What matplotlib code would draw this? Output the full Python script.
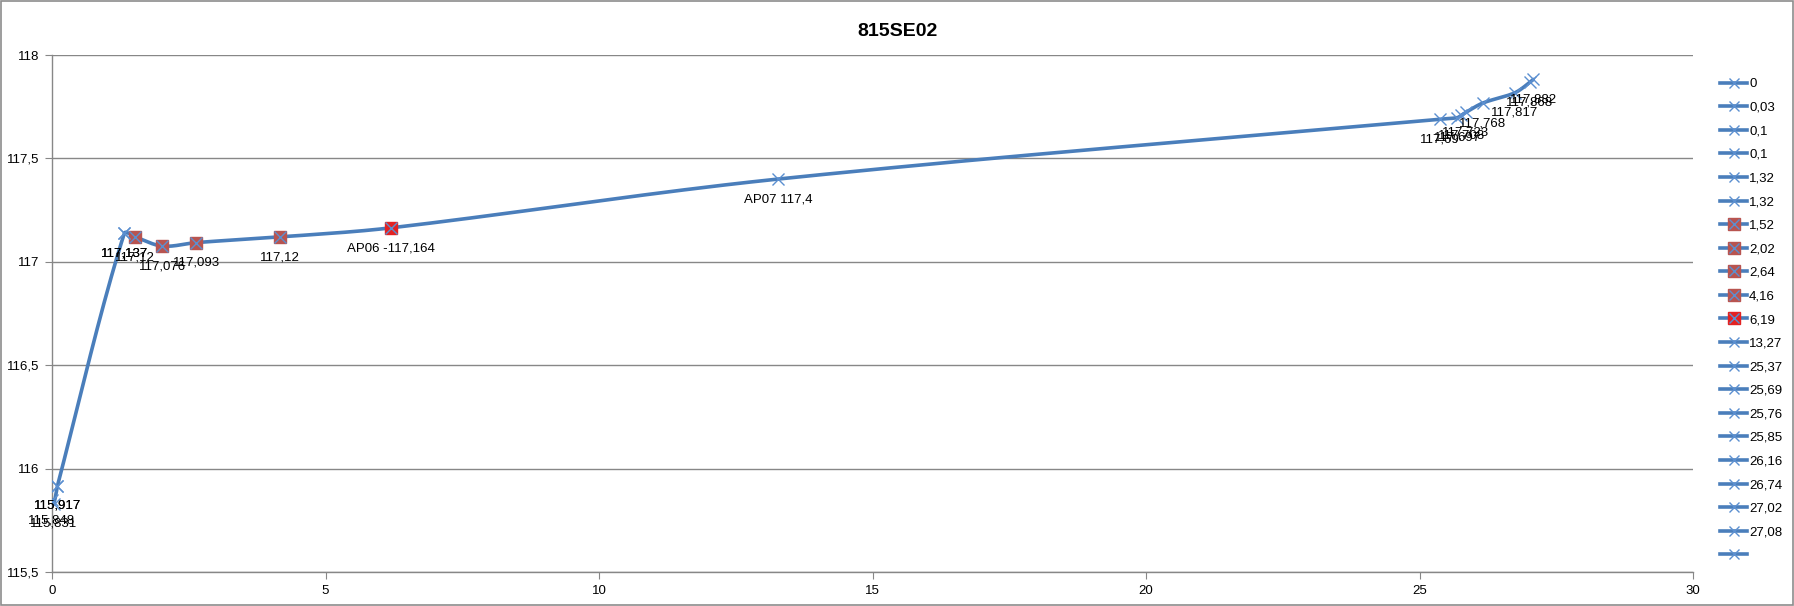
import numpy as np
import matplotlib
matplotlib.use("Agg")
import matplotlib.pyplot as plt
from matplotlib.lines import Line2D
from matplotlib.legend_handler import HandlerTuple
from matplotlib.patches import Rectangle

# ---- data ----
x_vals = [0, 0.03, 0.1, 0.1, 1.32, 1.32, 1.52, 2.02, 2.64, 4.16, 6.19, 13.27,
          25.37, 25.69, 25.76, 25.85, 26.16, 26.74, 27.02, 27.08]
y_vals = [115.848, 115.831, 115.917, 115.917, 117.137, 117.137, 117.12, 117.076,
          117.093, 117.12, 117.164, 117.4,
          117.69, 117.697, 117.708, 117.723, 117.768, 117.817, 117.868, 117.882]
point_labels = ["115,848", "115,831", "115,917", "115,917", "117,137", "117,137",
                "117,12", "117,076", "117,093", "117,12", "AP06 -117,164", "AP07 117,4",
                "117,69", "117,697", "117,708", "117,723", "117,768", "117,817",
                "117,868", "117,882"]
legend_labels = ["0", "0,03", "0,1", "0,1", "1,32", "1,32", "1,52", "2,02", "2,64",
                 "4,16", "6,19", "13,27", "25,37", "25,69", "25,76", "25,85",
                 "26,16", "26,74", "27,02", "27,08", ""]
# marker style per point: 'x' plain, 's' dark-red square, 'r' bright red square
marker_kind = ["x", "x", "x", "x", "x", "x", "s", "s", "s", "s", "r", "x",
               "x", "x", "x", "x", "x", "x", "x", "x"]
title = "815SE02"
y_ticks = [115.5, 116, 116.5, 117, 117.5, 118]
y_tick_labels = ["115,5", "116", "116,5", "117", "117,5", "118"]
x_ticks = [0, 5, 10, 15, 20, 25, 30]

LINE = "#4A7EBB"
XMARK = "#5B8FD0"
SQ = "#B85450"
RED = "#E32222"
GRID = "#878787"

plt.rcParams['font.family'] = ['Liberation Sans', 'DejaVu Sans']

fig = plt.figure(figsize=(17.94, 6.06), dpi=100)
fig.patches.append(Rectangle((0.0005, 0.001), 0.999, 0.997, transform=fig.transFigure,
                             fill=False, edgecolor="#8C8C8C", linewidth=1.2))
ax = fig.add_axes([52/1794, 1-572/606, (1693-52)/1794, (572-55)/606])
ax.set_xlim(0, 30)
ax.set_ylim(115.5, 118)


def smooth(xs, ys, n=30):
    """Smoothed path (like a spreadsheet 'smoothed line'), computed in pixel space."""
    pts = []
    for a, b in zip(xs, ys):
        if not pts or (a, b) != pts[-1]:
            pts.append((a, b))
    P = ax.transData.transform(np.array(pts, dtype=float))
    m = len(P)
    out = [P[0]]
    def tangent(i):
        a = P[i-1] if i > 0 else P[i]
        b = P[i+1] if i + 1 < m else P[i]
        v = b - a
        nv = np.hypot(*v)
        return v / nv if nv > 0 else v
    for i in range(m - 1):
        p1, p2 = P[i], P[i+1]
        d = np.hypot(*(p2 - p1))
        c1 = p1 + tangent(i) * d / 3.0
        c2 = p2 - tangent(i+1) * d / 3.0
        t = np.linspace(0, 1, n)[1:, None]
        seg = ((1-t)**3)*p1 + 3*((1-t)**2)*t*c1 + 3*(1-t)*(t**2)*c2 + (t**3)*p2
        out.extend(seg)
    out = ax.transData.inverted().transform(np.array(out))
    return out[:, 0], out[:, 1]


sx, sy = smooth(x_vals, y_vals)
ax.plot(sx, sy, color=LINE, linewidth=2.6, zorder=3, solid_capstyle='round')

for xv, yv, k in zip(x_vals, y_vals, marker_kind):
    if k == "s":
        ax.plot([xv], [yv], marker='s', markersize=8.5, color=SQ, markeredgecolor=SQ,
                linestyle='none', zorder=4)
    elif k == "r":
        ax.plot([xv], [yv], marker='s', markersize=8.5, color=RED, markeredgecolor=RED,
                linestyle='none', zorder=4)
    ax.plot([xv], [yv], marker='x', markersize=8, color=XMARK, markeredgewidth=1.0,
            linestyle='none', zorder=5)

for xv, yv, lab in zip(x_vals, y_vals, point_labels):
    ax.annotate(lab, (xv, yv), xytext=(0, -14.5), textcoords='offset points',
                ha='center', va='center', fontsize=9.5, color='black', zorder=6)

ax.set_xticks(x_ticks)
ax.set_xticklabels([str(v) for v in x_ticks])
ax.set_yticks(y_ticks)
ax.set_yticklabels(y_tick_labels)
ax.yaxis.grid(True, color=GRID, linewidth=1.0)
ax.xaxis.grid(False)
ax.set_axisbelow(True)
for s in ["top", "right"]:
    ax.spines[s].set_visible(False)
for s in ["left", "bottom"]:
    ax.spines[s].set_color(GRID)
    ax.spines[s].set_linewidth(1.0)
ax.tick_params(axis='both', direction='out', length=5, color=GRID, labelsize=9.5,
               pad=4)

fig.text(0.5, 1-32/606, title, ha='center', va='center', fontsize=14,
         fontweight='bold')

# legend
handles = []
for k in marker_kind + ["x"]:
    ln = Line2D([0, 1], [0, 0], color=LINE, linewidth=2.6, marker='x', markersize=7,
                markeredgecolor=XMARK, markeredgewidth=1.0)
    if k == "s":
        sq = Line2D([], [], marker='s', markersize=8, color=SQ, linestyle='none')
        xm = Line2D([], [], marker='x', markersize=7, color=XMARK, linestyle='none',
                    markeredgewidth=1.0)
        handles.append((ln, sq, xm))
    elif k == "r":
        sq = Line2D([], [], marker='s', markersize=8, color=RED, linestyle='none')
        xm = Line2D([], [], marker='x', markersize=7, color=XMARK, linestyle='none',
                    markeredgewidth=1.0)
        handles.append((ln, sq, xm))
    else:
        handles.append(ln)
fig.legend(handles, legend_labels, loc='upper left',
           bbox_to_anchor=(1720/1794, 1-78/606), frameon=False, fontsize=9.5,
           handler_map={tuple: HandlerTuple(ndivide=1, pad=0)}, numpoints=1,
           handlelength=2.05, handletextpad=0.15, labelspacing=0.86,
           borderaxespad=0, borderpad=0)

fig.savefig("out.png", dpi=100)
